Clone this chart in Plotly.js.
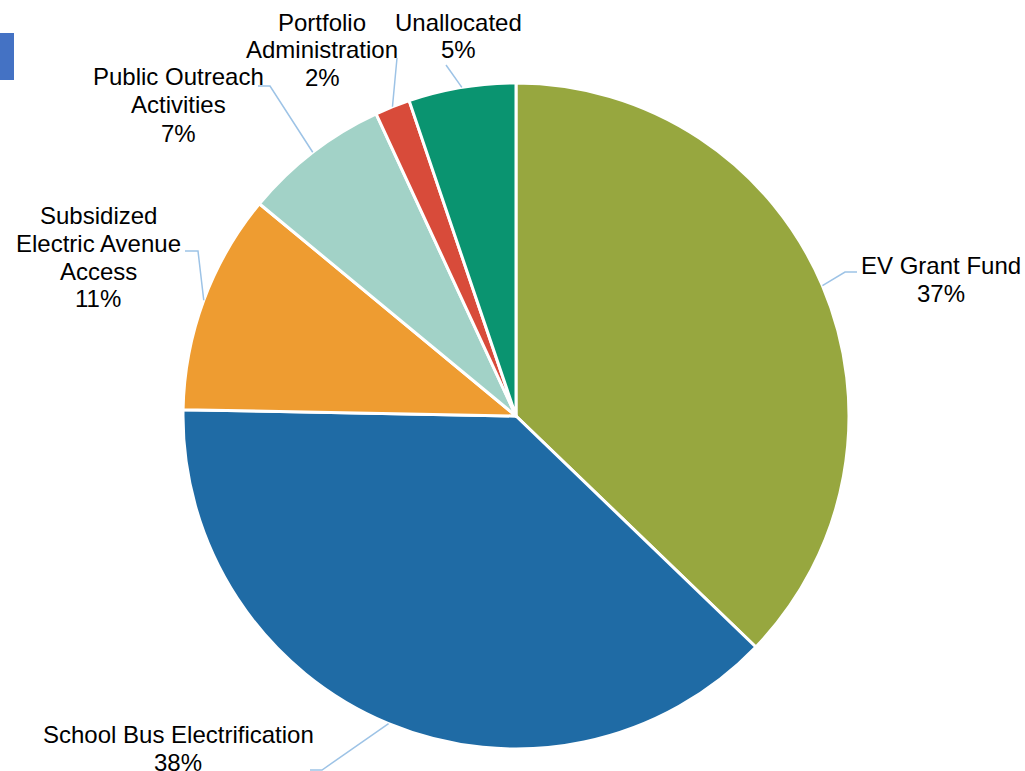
<!DOCTYPE html>
<html>
<head>
<meta charset="utf-8">
<script src="https://cdn.plot.ly/plotly-3.0.1.min.js"></script>
<style>html,body{margin:0;padding:0;background:#fff;}#chart{width:1025px;height:771px;}</style>
</head>
<body>
<div id="chart"></div>
<script>
// ---- data ----
const categories = ["EV Grant Fund", "School Bus Electrification", "Subsidized Electric Avenue Access",
                    "Public Outreach Activities", "Portfolio Administration", "Unallocated"];
const labelLines = [["EV Grant Fund"], ["School Bus Electrification"], ["Subsidized", "Electric Avenue", "Access"],
                    ["Public Outreach", "Activities"], ["Portfolio", "Administration"], ["Unallocated"]];
const shares = [37.2, 38.1, 10.7, 7.1, 1.7, 5.2];
const colors = ["#97A73F", "#1F6BA5", "#EE9C31", "#A2D2C7", "#D84B3A", "#0A9470"];

// ---- layout geometry (pixels) ----
const W = 1025, H = 771;
const cx = 516, cy = 416, R = 333;
const LINE = 28;
const px = x => x / W;
const py = y => 1 - y / H;

// label block centres and elbow points (label placement, pixels)
const labelPos = [[941, 279], [178, 748], [98, 257], [178, 105], [322, 50], [458, 36]];
const elbows = [
  [[857, 272], [845, 272]],
  [[310, 770], [322, 770]],
  [[185, 251], [198, 251]],
  [[258, 86], [270, 86]],
  [[397, 58]],
  [[446, 65]]
];

const total = shares.reduce((a, b) => a + b, 0);
let cum = 0;
const shapes = [];
const annotations = [];
shares.forEach((v, i) => {
  const mid = (cum + v / 2) / total * 2 * Math.PI;
  cum += v;
  const ax = cx + R * Math.sin(mid), ay = cy - R * Math.cos(mid);
  const pts = elbows[i].concat([[ax, ay]]);
  const path = pts.map((p, k) => (k ? "L" : "M") + px(p[0]).toFixed(5) + "," + py(p[1]).toFixed(5)).join(" ");
  shapes.push({type: "path", xref: "paper", yref: "paper", path: path,
               line: {color: "#9DC3E6", width: 1.5}});
  const pct = Math.round(v / total * 100);
  const lines = labelLines[i].concat([pct + "%"]);
  const y0 = labelPos[i][1] - (lines.length - 1) * LINE / 2;
  lines.forEach((t, k) => {
    annotations.push({xref: "paper", yref: "paper", x: px(labelPos[i][0]), y: py(y0 + k * LINE),
                      xanchor: "center", yanchor: "middle", showarrow: false, align: "center",
                      text: t,
                      font: {family: "Liberation Sans, Arial, sans-serif", size: 24, color: "#000"}});
  });
});

// small blue tab at top-left
shapes.push({type: "rect", xref: "paper", yref: "paper", x0: px(0), x1: px(14), y0: py(80), y1: py(33),
             fillcolor: "#4472C4", line: {width: 0}});

const trace = {
  type: "pie",
  labels: categories,
  values: shares,
  sort: false,
  direction: "clockwise",
  rotation: 0,
  textinfo: "none",
  hoverinfo: "label+percent",
  marker: {colors: colors, line: {color: "#ffffff", width: 3}},
  domain: {x: [px(cx - R), px(cx + R)], y: [py(cy + R), py(cy - R)]}
};

const layout = {
  width: W, height: H,
  margin: {l: 0, r: 0, t: 0, b: 0},
  paper_bgcolor: "#fff",
  showlegend: false,
  shapes: shapes,
  annotations: annotations
};

Plotly.newPlot("chart", [trace], layout, {displayModeBar: false, staticPlot: true});
</script>
</body>
</html>
